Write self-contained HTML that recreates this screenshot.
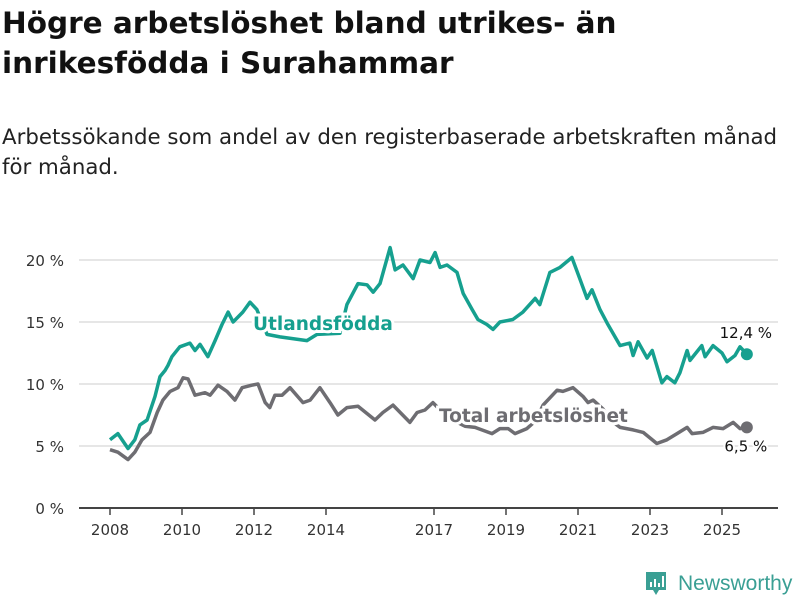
<!DOCTYPE html>
<html><head><meta charset="utf-8"><style>
body{margin:0;background:#fff;width:800px;height:600px;overflow:hidden;font-family:"DejaVu Sans","Liberation Sans",sans-serif;}
svg{position:absolute;left:0;top:0}
</style></head><body>
<svg id="chart" width="800" height="600">
<text x="2" y="33" font-size="29.5" font-weight="bold" fill="#111">Högre arbetslöshet bland utrikes- än</text>
<text x="2" y="73" font-size="29.5" font-weight="bold" fill="#111">inrikesfödda i Surahammar</text>
<text x="2" y="144" font-size="21.3" fill="#222">Arbetssökande som andel av den registerbaserade arbetskraften månad</text>
<text x="2" y="174" font-size="21.3" fill="#222">för månad.</text>
<g id="grid"></g><g id="lines"></g><g id="labels"></g>
<g>
<path d="M646 572h20v18h-7l-3 5-3-5h-7z" fill="#3a9f94"/>
<rect x="650" y="582" width="2" height="5" fill="#fff"/><rect x="654" y="579" width="2" height="8" fill="#fff"/><rect x="658" y="583" width="2" height="4" fill="#fff"/><rect x="662" y="576" width="2" height="11" fill="#fff"/>
<text x="678" y="590" font-size="21" fill="#3a9f94" font-family="Liberation Sans, sans-serif">Newsworthy</text>
</g>
</svg>
<script>
const tealYears=[2008.0,2008.22,2008.5,2008.69,2008.83,2009.03,2009.25,2009.39,2009.53,2009.61,2009.72,2009.94,2010.22,2010.36,2010.5,2010.72,2010.92,2011.11,2011.28,2011.42,2011.69,2011.89,2012.08,2012.36,2012.72,2013.47,2013.75,2014.39,2014.58,2014.89,2015.14,2015.31,2015.5,2015.78,2015.92,2016.14,2016.42,2016.61,2016.89,2017.03,2017.17,2017.36,2017.64,2017.81,2018.06,2018.22,2018.47,2018.64,2018.83,2019.19,2019.47,2019.81,2019.94,2020.22,2020.5,2020.83,2021.06,2021.25,2021.39,2021.61,2021.81,2022.17,2022.44,2022.53,2022.67,2022.92,2023.06,2023.33,2023.47,2023.69,2023.83,2024.03,2024.11,2024.44,2024.53,2024.75,2025.0,2025.14,2025.36,2025.5,2025.69];
const tealValues=[5.5,6.0,4.8,5.5,6.7,7.1,9.0,10.6,11.1,11.5,12.2,13.0,13.3,12.7,13.2,12.2,13.5,14.8,15.8,15.0,15.8,16.6,16.0,14.0,13.8,13.5,14.0,14.1,16.4,18.1,18.0,17.4,18.1,21.0,19.2,19.6,18.5,20.0,19.8,20.6,19.4,19.6,19.0,17.3,16.0,15.2,14.8,14.4,15.0,15.2,15.8,16.9,16.4,19.0,19.4,20.2,18.4,16.9,17.6,16.0,14.9,13.1,13.3,12.3,13.4,12.1,12.7,10.1,10.6,10.1,10.9,12.7,11.9,13.1,12.2,13.1,12.5,11.8,12.3,13.0,12.4];
const grayYears=[2008.0,2008.22,2008.5,2008.69,2008.89,2009.11,2009.31,2009.47,2009.67,2009.89,2010.03,2010.17,2010.36,2010.64,2010.78,2011.0,2011.25,2011.47,2011.67,2011.94,2012.11,2012.31,2012.44,2012.58,2012.78,2013.0,2013.36,2013.56,2013.83,2014.11,2014.33,2014.58,2014.89,2015.36,2015.58,2015.86,2016.33,2016.53,2016.75,2016.97,2017.31,2017.58,2017.86,2018.14,2018.61,2018.83,2019.06,2019.25,2019.58,2019.81,2020.03,2020.42,2020.58,2020.86,2021.14,2021.28,2021.42,2021.69,2021.94,2022.17,2022.53,2022.81,2023.19,2023.47,2023.75,2024.03,2024.17,2024.47,2024.75,2025.03,2025.31,2025.5,2025.69];
const grayValues=[4.7,4.5,3.9,4.5,5.5,6.1,7.7,8.7,9.4,9.7,10.5,10.4,9.1,9.3,9.1,9.9,9.4,8.7,9.7,9.9,10.0,8.5,8.1,9.1,9.1,9.7,8.5,8.7,9.7,8.5,7.5,8.1,8.2,7.1,7.7,8.3,6.9,7.7,7.9,8.5,7.5,7.0,6.6,6.5,6.0,6.4,6.4,6.0,6.4,7.0,8.3,9.5,9.4,9.7,9.0,8.5,8.7,8.0,7.0,6.5,6.3,6.1,5.2,5.5,6.0,6.5,6.0,6.1,6.5,6.4,6.9,6.4,6.5];
const yTicks=[0,5,10,15,20];
const yTickLabels=["0 %","5 %","10 %","15 %","20 %"];
const xTicks=[2008,2010,2012,2014,2017,2019,2021,2023,2025];
const endLabels=["12,4 %","6,5 %"];

const NS="http://www.w3.org/2000/svg";
const X=y=>110+(y-2008)*36;
const Y=v=>508-v*12.4;
function mk(tag,attrs,parent,text){const e=document.createElementNS(NS,tag);for(const k in attrs)e.setAttribute(k,attrs[k]);if(text!==undefined)e.textContent=text;parent.appendChild(e);return e;}
const grid=document.getElementById('grid'),lines=document.getElementById('lines'),labels=document.getElementById('labels');
yTicks.forEach((t,i)=>{
 const l=mk('line',{x1:79,x2:778,y1:Y(t),y2:Y(t),stroke:t===0?'#444':'#ddd','stroke-width':t===0?2:1.5},grid);
 
 
 const tx=mk('text',{x:64,y:Y(t)+6,'text-anchor':'end','font-size':15,fill:'#333'},grid,yTickLabels[i]);
 
 
});
xTicks.forEach(t=>{
 const l=mk('line',{x1:X(t),x2:X(t),y1:508,y2:515,stroke:'#444','stroke-width':1.5},grid);
 
 
 const tx=mk('text',{x:X(t),y:535,'text-anchor':'middle','font-size':15,fill:'#333'},grid,String(t));
 
 
});
function path(ys,vs){return ys.map((y,i)=>(i?'L':'M')+X(y).toFixed(1)+' '+Y(vs[i]).toFixed(1)).join(' ');}
const g=mk('path',{d:path(grayYears,grayValues),fill:'none',stroke:'#6e6d72','stroke-width':3.5,'stroke-linejoin':'round'},lines);


const t=mk('path',{d:path(tealYears,tealValues),fill:'none',stroke:'#16a08f','stroke-width':3.5,'stroke-linejoin':'round'},lines);


const lt=tealYears.length-1,lg=grayYears.length-1;
const d1=mk('circle',{cx:X(tealYears[lt]),cy:Y(tealValues[lt]),r:6,fill:'#16a08f'},lines);


const d2=mk('circle',{cx:X(grayYears[lg]),cy:Y(grayValues[lg]),r:6,fill:'#6e6d72'},lines);


const e1=mk('text',{x:X(tealYears[lt])-1,y:Y(tealValues[lt])-16,'text-anchor':'middle','font-size':15,fill:'#111'},labels,endLabels[0]);


const e2=mk('text',{x:X(grayYears[lg])-1,y:Y(grayValues[lg])+24,'text-anchor':'middle','font-size':15,fill:'#111',stroke:'#fff','stroke-width':4,'paint-order':'stroke'},labels,endLabels[1]);


const s1=mk('text',{x:253,y:330,'font-size':18.5,'font-weight':'bold',fill:'#16a08f',stroke:'#fff','stroke-width':6,'paint-order':'stroke'},labels,'Utlandsfödda');


const s2=mk('text',{x:439,y:422,'font-size':18.5,'font-weight':'bold',fill:'#6e6d72',stroke:'#fff','stroke-width':6,'paint-order':'stroke'},labels,'Total arbetslöshet');


</script>
</body></html>
